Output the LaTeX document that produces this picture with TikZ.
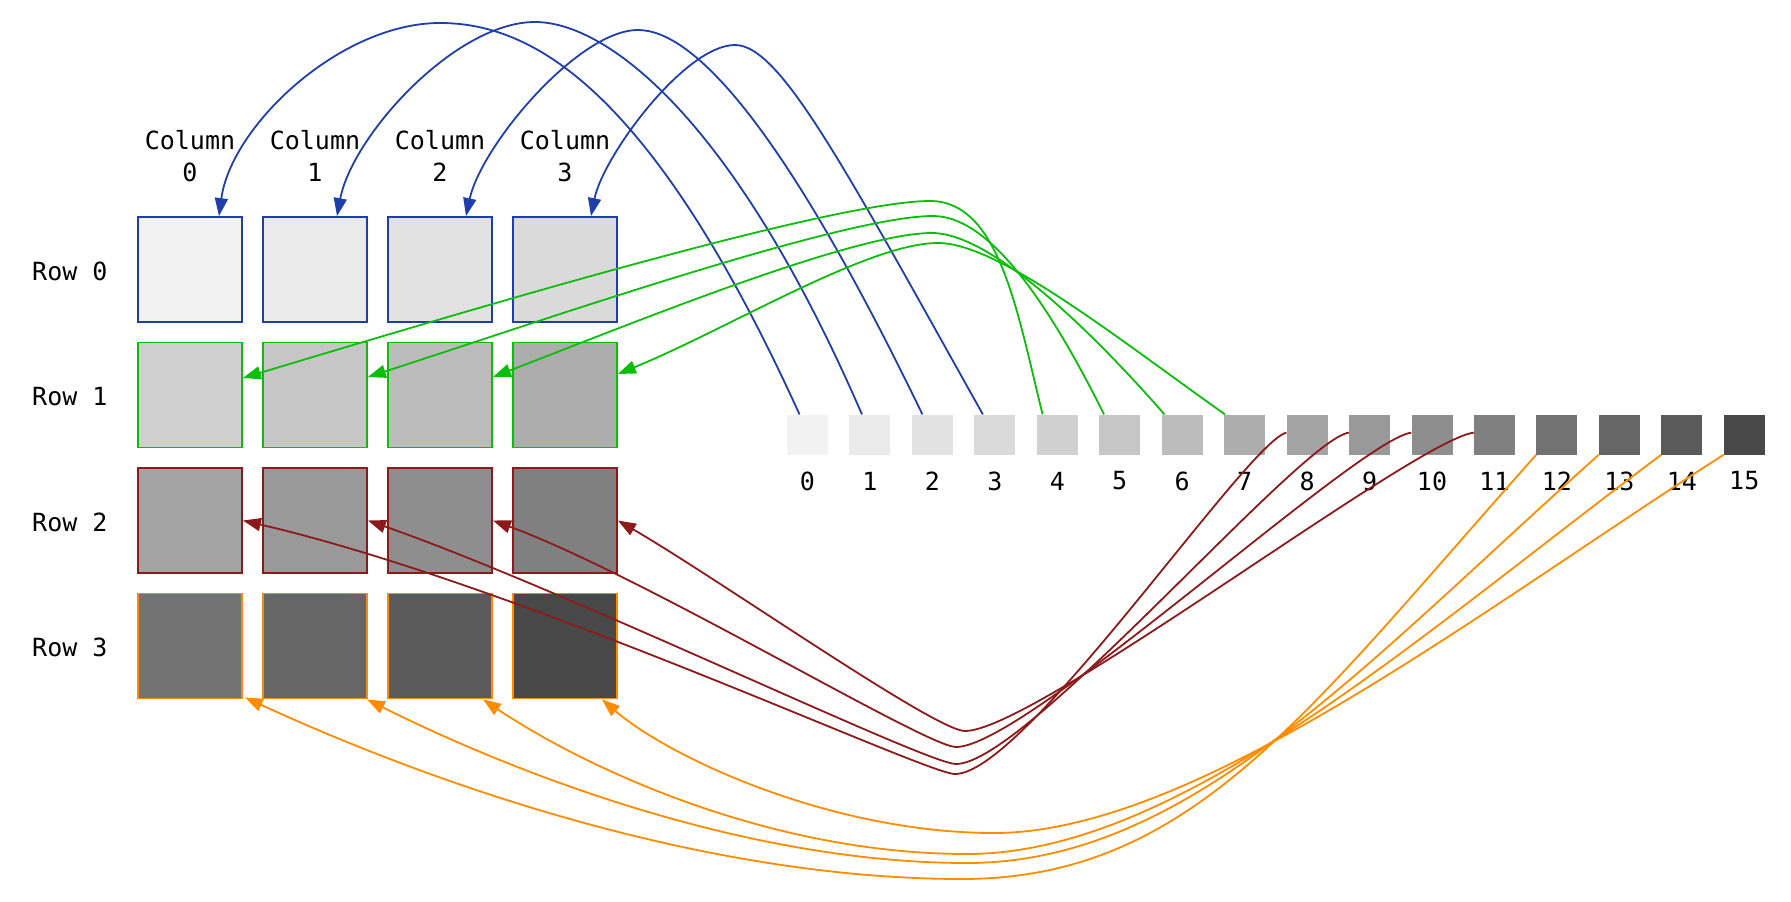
\documentclass[tikz,border=0pt]{standalone}
\usepackage{fontspec}
\setmonofont{DejaVu Sans Mono}
\usetikzlibrary{arrows.meta,calc}
\definecolor{cblue}{RGB}{32,62,170}
\definecolor{cgreen}{RGB}{10,190,10}
\definecolor{cred}{RGB}{140,26,26}
\definecolor{corange}{RGB}{255,140,0}
\colorlet{rc0}{cblue}
\colorlet{rc1}{cgreen}
\colorlet{rc2}{cred}
\colorlet{rc3}{corange}
\definecolor{gr0}{RGB}{242,242,242}
\definecolor{gr1}{RGB}{234,234,234}
\definecolor{gr2}{RGB}{226,226,226}
\definecolor{gr3}{RGB}{218,218,218}
\definecolor{gr4}{RGB}{208,208,208}
\definecolor{gr5}{RGB}{198,198,198}
\definecolor{gr6}{RGB}{188,188,188}
\definecolor{gr7}{RGB}{173,173,173}
\definecolor{gr8}{RGB}{164,164,164}
\definecolor{gr9}{RGB}{153,153,153}
\definecolor{gr10}{RGB}{142,142,142}
\definecolor{gr11}{RGB}{128,128,128}
\definecolor{gr12}{RGB}{114,114,114}
\definecolor{gr13}{RGB}{102,102,102}
\definecolor{gr14}{RGB}{90,90,90}
\definecolor{gr15}{RGB}{72,72,72}
\begin{document}
\begin{tikzpicture}[x=1pt,y=-1pt,
  cell/.style={draw, line width=1.8pt, minimum width=104pt, minimum height=105pt, inner sep=0pt},
  lcell/.style={minimum width=41pt, minimum height=40pt, inner sep=0pt},
  lab/.style={font=\ttfamily\fontsize{25}{32}\selectfont, inner sep=0pt, align=center},
  conn/.style={line width=1.8pt, -{Triangle[length=18pt,width=13pt]}}]
\useasboundingbox (0,0) rectangle (1791,902);

% grid
\foreach \r in {0,...,3}{
  \foreach \c in {0,...,3}{
    \pgfmathtruncatemacro\idx{4*\r+\c}
    \node[cell, draw=rc\r, fill=gr\idx] (g-\r-\c) at ({190+125*\c},{269.5+125.5*\r}) {};
  }
  \node[lab, anchor=west] (rl-\r) at (32,{271+125.5*\r}) {Row \r};
}
\foreach \c in {0,...,3}{
  \node[lab] (cl-\c) at ({190+125*\c},156) {Column\\\c};
}
% linear array
\foreach \i in {0,...,15}{
  \node[lcell, fill=gr\i] (l-\i) at ({807.5+62.45*\i},434.6) {};
  \node[lab] (n-\i) at ({807.5+62.45*\i},481) {\i};
}

% blue connectors
\draw[conn, cblue] ([xshift=-8pt]l-0.north) .. controls +(-150,-330) and +(90,0) .. (440,23)
  .. controls +(-100,0) and +(12,-90) .. ([xshift=29pt]g-0-0.north);
\draw[conn, cblue] ([xshift=-8pt]l-1.north) .. controls +(-130,-300) and +(70,0) .. (535,22)
  .. controls +(-80,0) and +(15,-80) .. ([xshift=22pt]g-0-1.north);
\draw[conn, cblue] ([xshift=-10pt]l-2.north) .. controls +(-140,-290) and +(55,0) .. (638,30)
  .. controls +(-60,0) and +(15,-70) .. ([xshift=26pt]g-0-2.north);
\draw[conn, cblue] ([xshift=-12pt]l-3.north) .. controls +(-140,-250) and +(45,0) .. (735,45)
  .. controls +(-50,0) and +(12,-60) .. ([xshift=26pt]g-0-3.north);

% green connectors
\draw[conn, cgreen] ([xshift=6pt]l-4.north west) .. controls +(-25,-100) and +(70,0) .. (930,201)
  .. controls +(-100,0) and +(200,-60) .. ([yshift=17pt]g-1-0.east);
\draw[conn, cgreen] ([xshift=5pt]l-5.north west) .. controls +(-50,-100) and +(60,0) .. (933,216)
  .. controls +(-90,0) and +(170,-55) .. ([yshift=18pt]g-1-1.east);
\draw[conn, cgreen] ([xshift=3pt]l-6.north west) .. controls +(-70,-80) and +(60,0) .. (932,233)
  .. controls +(-80,0) and +(130,-50) .. ([yshift=18pt]g-1-2.east);
\draw[conn, cgreen] ([xshift=1pt]l-7.north west) .. controls +(-110,-78) and +(60,0) .. (938,243)
  .. controls +(-70,0) and +(110,-45) .. ([yshift=21pt]g-1-3.east);

% red connectors
\draw[conn, cred] ([yshift=2pt]l-8.west) .. controls +(-40,10) and +(70,0) .. (955,774)
  .. controls +(-30,0) and +(280,65) .. (g-2-0.east);
\draw[conn, cred] ([yshift=2pt]l-9.west) .. controls +(-50,8) and +(70,0) .. (956,764)
  .. controls +(-30,0) and +(200,70) .. (g-2-1.east);
\draw[conn, cred] ([yshift=2pt]l-10.west) .. controls +(-55,8) and +(70,0) .. (956,747)
  .. controls +(-30,0) and +(150,55) .. (g-2-2.east);
\draw[conn, cred] ([yshift=2pt]l-11.west) .. controls +(-60,8) and +(70,0) .. (965,731)
  .. controls +(-30,0) and +(100,58) .. (g-2-3.east);

% orange connectors
\draw[conn, corange] (l-12.south west) .. controls +(-230,258) and +(230,0) .. (962,879)
  .. controls +(-250,0) and +(200,92) .. ([xshift=2pt,yshift=2pt]g-3-0.south east);
\draw[conn, corange] (l-13.south west) .. controls +(-240,215) and +(220,0) .. (967,863)
  .. controls +(-220,0) and +(150,75) .. ([xshift=-1pt]g-3-1.south east);
\draw[conn, corange] (l-14.south west) .. controls +(-250,187) and +(210,0) .. (967,854)
  .. controls +(-200,0) and +(100,67) .. ([xshift=-10pt]g-3-2.south east);
\draw[conn, corange] (l-15.south west) .. controls +(-250,160) and +(200,0) .. (994,833)
  .. controls +(-160,0) and +(70,60) .. ([xshift=-16pt]g-3-3.south east);
\end{tikzpicture}
\end{document}
